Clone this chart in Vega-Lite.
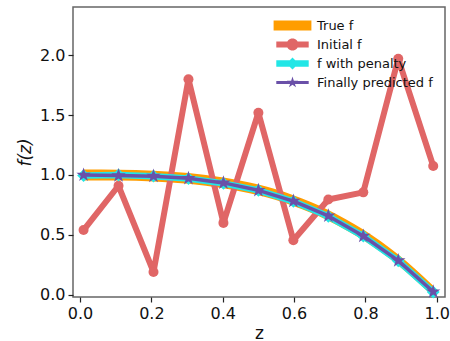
{
  "$schema": "https://vega.github.io/schema/vega-lite/v6.json",
  "width": 372,
  "height": 290,
  "autosize": {"type": "none"},
  "padding": {"left": 73, "top": 7, "right": 5, "bottom": 44},
  "background": "white",
  "config": {
    "font": "DejaVu Sans",
    "view": {"stroke": "#666666", "strokeWidth": 1.5},
    "axis": {
      "labelFont": "DejaVu Sans",
      "labelFontSize": 16,
      "labelColor": "#111",
      "titleFont": "DejaVu Sans",
      "titleFontSize": 17,
      "titleFontWeight": "normal",
      "titleColor": "#111",
      "tickColor": "#222",
      "tickSize": 5,
      "tickWidth": 1.2,
      "domain": false,
      "grid": false,
      "labelPadding": 3
    },
    "legend": {
      "labelFont": "DejaVu Sans",
      "labelFontSize": 13,
      "labelColor": "#111"
    }
  },
  "data": {
    "values": [
      {"series": "True f", "z": 0.01, "f": 0.955, "f2": 1.045},
      {"series": "True f", "z": 0.108, "f": 0.954, "f2": 1.044},
      {"series": "True f", "z": 0.206, "f": 0.946, "f2": 1.036},
      {"series": "True f", "z": 0.304, "f": 0.927, "f2": 1.017},
      {"series": "True f", "z": 0.402, "f": 0.89, "f2": 0.98},
      {"series": "True f", "z": 0.5, "f": 0.83, "f2": 0.92},
      {"series": "True f", "z": 0.598, "f": 0.741, "f2": 0.831},
      {"series": "True f", "z": 0.696, "f": 0.618, "f2": 0.708},
      {"series": "True f", "z": 0.794, "f": 0.454, "f2": 0.544},
      {"series": "True f", "z": 0.892, "f": 0.245, "f2": 0.335},
      {"series": "True f", "z": 0.99, "f": -0.015, "f2": 0.075},
      {"series": "Initial f", "z": 0.01, "f": 0.54},
      {"series": "Initial f", "z": 0.108, "f": 0.91},
      {"series": "Initial f", "z": 0.206, "f": 0.19},
      {"series": "Initial f", "z": 0.304, "f": 1.8},
      {"series": "Initial f", "z": 0.402, "f": 0.6},
      {"series": "Initial f", "z": 0.5, "f": 1.52},
      {"series": "Initial f", "z": 0.598, "f": 0.455},
      {"series": "Initial f", "z": 0.696, "f": 0.795},
      {"series": "Initial f", "z": 0.794, "f": 0.855},
      {"series": "Initial f", "z": 0.892, "f": 1.97},
      {"series": "Initial f", "z": 0.99, "f": 1.075},
      {"series": "f with penalty", "z": 0.01, "f": 0.995},
      {"series": "f with penalty", "z": 0.108, "f": 1.0},
      {"series": "f with penalty", "z": 0.206, "f": 0.99},
      {"series": "f with penalty", "z": 0.304, "f": 0.97},
      {"series": "f with penalty", "z": 0.402, "f": 0.93},
      {"series": "f with penalty", "z": 0.5, "f": 0.872},
      {"series": "f with penalty", "z": 0.598, "f": 0.78},
      {"series": "f with penalty", "z": 0.696, "f": 0.655},
      {"series": "f with penalty", "z": 0.794, "f": 0.49},
      {"series": "f with penalty", "z": 0.892, "f": 0.283},
      {"series": "f with penalty", "z": 0.99, "f": 0.022},
      {"series": "Finally predicted f", "z": 0.01, "f": 1.0},
      {"series": "Finally predicted f", "z": 0.108, "f": 0.995},
      {"series": "Finally predicted f", "z": 0.206, "f": 0.99},
      {"series": "Finally predicted f", "z": 0.304, "f": 0.972},
      {"series": "Finally predicted f", "z": 0.402, "f": 0.934},
      {"series": "Finally predicted f", "z": 0.5, "f": 0.872},
      {"series": "Finally predicted f", "z": 0.598, "f": 0.782},
      {"series": "Finally predicted f", "z": 0.696, "f": 0.658},
      {"series": "Finally predicted f", "z": 0.794, "f": 0.49},
      {"series": "Finally predicted f", "z": 0.892, "f": 0.285},
      {"series": "Finally predicted f", "z": 0.99, "f": 0.025},
      {"series": "True f", "z": -1, "f": -1, "key": "legend"},
      {"series": "Initial f", "z": -1, "f": -1, "key": "legend"},
      {"series": "f with penalty", "z": -1, "f": -1, "key": "legend"},
      {"series": "Finally predicted f", "z": -1, "f": -1, "key": "legend"}
    ]
  },
  "encoding": {
    "x": {"field": "z", "type": "quantitative", "scale": {"domain": [-0.0196, 1.023], "nice": false, "zero": false},
      "axis": {"values": [0, 0.2, 0.4, 0.6, 0.8, 1.0], "format": ".1f", "title": "z", "titlePadding": 4}},
    "y": {"field": "f", "type": "quantitative", "scale": {"domain": [-0.019, 2.403], "nice": false, "zero": false},
      "axis": {"values": [0, 0.5, 1.0, 1.5, 2.0], "format": ".1f", "title": "f(z)", "titleFontStyle": "italic", "titlePadding": 5}}
  },
  "layer": [
    {
      "transform": [{"filter": "datum.series === 'True f' && datum.key == null"}],
      "mark": {"type": "area", "color": "#ff9d00", "interpolate": "monotone", "opacity": 1},
      "encoding": {"y2": {"field": "f2"}}
    },
    {
      "transform": [{"filter": "datum.series === 'Initial f' && datum.key == null"}],
      "mark": {"type": "line", "color": "#e06666", "strokeWidth": 6, "strokeJoin": "round"}
    },
    {
      "transform": [{"filter": "datum.series === 'Initial f' && datum.key == null"}],
      "mark": {"type": "point", "filled": true, "shape": "circle", "size": 100, "color": "#e06666", "opacity": 1}
    },
    {
      "transform": [{"filter": "datum.series === 'f with penalty' && datum.key == null"}],
      "mark": {"type": "line", "color": "#22e6e6", "strokeWidth": 6.5, "strokeJoin": "round"}
    },
    {
      "transform": [{"filter": "datum.series === 'f with penalty' && datum.key == null"}],
      "mark": {"type": "point", "filled": true, "shape": "diamond", "size": 165, "color": "#22e6e6", "opacity": 1}
    },
    {
      "transform": [{"filter": "datum.series === 'Finally predicted f' && datum.key == null"}],
      "mark": {"type": "line", "color": "#6a50a8", "strokeWidth": 3.5, "strokeJoin": "round"}
    },
    {
      "transform": [{"filter": "datum.series === 'Finally predicted f' && datum.key == null"}],
      "mark": {"type": "point", "filled": true, "shape": "M0,-1L0.223,-0.307L0.951,-0.309L0.361,0.117L0.588,0.809L0,0.38L-0.588,0.809L-0.361,0.117L-0.951,-0.309L-0.223,-0.307Z", "size": 230, "color": "#6a50a8", "opacity": 1}
    },
    {
      "transform": [{"filter": "datum.key === 'legend'"}],
      "mark": {"type": "point", "filled": true, "clip": true, "size": 144, "opacity": 1},
      "encoding": {
        "color": {
          "field": "series", "type": "nominal", "title": null,
          "scale": {"domain": ["True f", "Initial f", "f with penalty", "Finally predicted f"],
                    "range": ["#ff9d00", "#e06666", "#22e6e6", "#6a50a8"]},
          "legend": {"orient": "top-right", "offset": 12, "padding": 0, "labelOffset": 18, "rowPadding": 5, "symbolSize": 144, "symbolStrokeWidth": 0}
        },
        "shape": {
          "field": "series", "type": "nominal", "title": null,
          "scale": {"domain": ["True f", "Initial f", "f with penalty", "Finally predicted f"],
                    "range": [
                      "M-3.15,-0.85H3.15V0.85H-3.15Z",
                      "M-2.7,-0.5H2.7V0.5H-2.7Z M1,0A1,1 0 1,1 -1,0A1,1 0 1,1 1,0Z",
                      "M-2.7,-0.55H2.7V0.55H-2.7Z M0,-1L1,0L0,1L-1,0Z",
                      "M-2.7,-0.25H2.7V0.25H-2.7Z M0,-1L0.223,-0.307L0.951,-0.309L0.361,0.117L0.588,0.809L0,0.38L-0.588,0.809L-0.361,0.117L-0.951,-0.309L-0.223,-0.307Z"
                    ]}
        }
      }
    }
  ]
}
